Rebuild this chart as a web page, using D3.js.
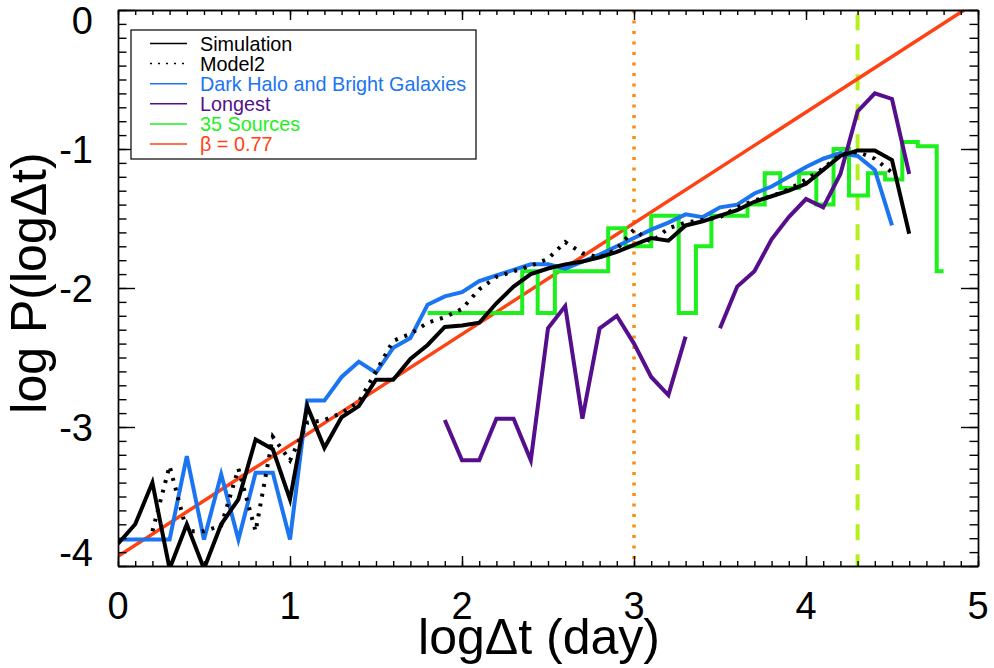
<!DOCTYPE html>
<html lang="en">
<head>
<meta charset="utf-8">
<title>log P(log dt)</title>
<script src="https://d3js.org/d3.v7.min.js"></script>
<style>
	body { margin:0; background:#fff; }
	text { font-family:"Liberation Sans", Arial, Helvetica, sans-serif; }
	.frame path, .frame line { stroke:#000; stroke-width:1.4px; }
</style>
</head>
<body>
<script>

// log(dt) grid, 0.1 dex
var logT = [0,0.1,0.2,0.3,0.4,0.5,0.6,0.7,0.8,0.9,1.0,1.1,1.2,1.3,1.4,1.5,1.6,1.7,1.8,1.9,
            2.0,2.1,2.2,2.3,2.4,2.5,2.6,2.7,2.8,2.9,3.0,3.1,3.2,3.3,3.4,3.5,3.6,3.7,3.8,3.9,
            4.0,4.1,4.2,4.3,4.4,4.5,4.6];

var simulation = [-3.84,-3.70,-3.40,-4.02,-3.70,-4.02,-3.70,-3.52,-3.09,-3.16,
                  -3.52,-2.85,-3.15,-2.93,-2.85,-2.66,-2.66,-2.51,-2.41,-2.28,
                  -2.27,-2.25,-2.11,-1.99,-1.90,-1.86,-1.83,-1.81,-1.78,-1.74,
                  -1.69,-1.64,-1.66,-1.55,-1.52,-1.48,-1.44,-1.38,-1.34,-1.30,
                  -1.25,-1.15,-1.05,-1.01,-1.01,-1.08,-1.61];

var model2 = [null,null,-3.75,-3.28,-3.75,-3.75,-3.71,-3.30,-3.75,-3.07,
              -3.24,-2.97,-2.95,-2.90,-2.82,-2.60,-2.38,-2.33,-2.25,-2.21,
              -2.15,-2.01,-1.92,-1.88,-1.84,-1.79,-1.67,-1.75,-1.78,-1.72,
              -1.58,-1.67,-1.57,-1.53,-1.51,-1.49,-1.42,-1.37,-1.34,-1.29,
              -1.22,-1.14,-1.04,-1.02,-1.07,-1.17,null];

var darkHalo = [-3.81,-3.81,-3.81,-3.81,-3.21,-3.81,-3.34,-3.81,-3.33,-3.33,
                -3.81,-2.81,-2.81,-2.64,-2.53,-2.61,-2.43,-2.36,-2.12,-2.06,
                -2.03,-1.95,-1.91,-1.87,-1.83,-1.83,-1.86,-1.81,-1.76,-1.70,
                -1.64,-1.58,-1.53,-1.47,-1.49,-1.42,-1.40,-1.32,-1.27,-1.20,
                -1.13,-1.07,-1.03,-1.05,-1.15,-1.55,null];

var longestX = [1.9,2.0,2.1,2.2,2.3,2.4,2.5,2.6,2.7,2.8,2.9,3.0,3.1,3.2,3.3,3.4,
                3.5,3.6,3.7,3.8,3.9,4.0,4.1,4.2,4.3,4.4,4.5,4.6];
var longest = [-2.95,-3.24,-3.24,-2.94,-2.94,-3.24,-2.29,-2.13,-2.94,-2.29,-2.20,-2.40,
               -2.64,-2.77,-2.35,null,-2.29,-1.99,-1.88,-1.65,-1.49,-1.36,-1.42,-1.18,
               -0.73,-0.60,-0.64,-1.18];

// 35 sources histogram: bin edges and values
var srcEdges = [1.8,2.35,2.44,2.54,2.85,2.95,3.10,3.26,3.36,3.45,3.66,3.76,
                3.85,3.96,4.06,4.16,4.25,4.36,4.46,4.56,4.65,4.76,4.80];
var srcVals = [-2.18,-1.88,-2.18,-1.88,-1.57,-1.70,-1.48,-2.18,-1.70,-1.48,-1.40,
               -1.175,-1.28,-1.175,-1.40,-1.00,-1.335,-1.175,-1.22,-0.95,-0.98,-1.88];

// power law fit, beta = 0.77
var fitX = [0, 4.92];
var fitY = [-3.93, 0];

var markerX = [3.0, 4.3];

var legendNames = ["Simulation", "Model2", "Dark Halo and Bright Galaxies", "Longest", "35 Sources", "\u03b2 = 0.77"];
var legendColors = ["#000000", "#000000", "#1b74f0", "#560f8c", "#1ef01e", "#ff4213"];

var xTicks = [0,1,2,3,4,5];
var yTicks = [0,-1,-2,-3,-4];

// canvas
const w = 994, h = 668;
const pLeft = 118, pRight = 978, pTop = 10, pBottom = 566;

var svg = d3.select("body")
			.append("svg")
			.attr("width", w)
			.attr("height", h);

var xScale = d3.scaleLinear().domain([0, 5]).range([pLeft, pRight]);
var yScale = d3.scaleLinear().domain([-4, 0]).range([pBottom, pTop]);

svg.append("clipPath")
   .attr("id", "clip")
   .append("rect")
   .attr("x", pLeft).attr("y", pTop)
   .attr("width", pRight - pLeft).attr("height", pBottom - pTop);

var plot = svg.append("g").attr("clip-path", "url(#clip)");

var line = d3.line()
			 .defined(d => d[1] != null)
			 .x(d => xScale(d[0]))
			 .y(d => yScale(d[1]));

function pairs(xs, ys) { return xs.map((x, i) => [x, ys[i]]); }

// vertical markers
plot.append("line")
	.attr("x1", xScale(markerX[0])).attr("x2", xScale(markerX[0]))
	.attr("y1", yScale(0)).attr("y2", yScale(-4))
	.attr("stroke", "#ff8c10").attr("stroke-width", 3.5)
	.attr("stroke-dasharray", "3,7.5");

plot.append("line")
	.attr("x1", xScale(markerX[1])).attr("x2", xScale(markerX[1]))
	.attr("y1", yScale(-0.03)).attr("y2", yScale(-4))
	.attr("stroke", "#b4f01e").attr("stroke-width", 4)
	.attr("stroke-dasharray", "16,14");

// fit line
plot.append("path")
	.attr("d", line(pairs(fitX, fitY)))
	.attr("fill", "none").attr("stroke", legendColors[5]).attr("stroke-width", 3.5);

// histogram of 35 sources
var stepPts = srcVals.map((v, i) => [srcEdges[i], v]);
stepPts.push([srcEdges[srcEdges.length - 1], srcVals[srcVals.length - 1]]);
plot.append("path")
	.attr("d", d3.line().curve(d3.curveStepAfter).x(d => xScale(d[0])).y(d => yScale(d[1]))(stepPts))
	.attr("fill", "none").attr("stroke", legendColors[4]).attr("stroke-width", 4);

plot.append("path")
	.attr("d", line(pairs(longestX, longest)))
	.attr("fill", "none").attr("stroke", legendColors[3]).attr("stroke-width", 4)
	.attr("stroke-linejoin", "miter");

plot.append("path")
	.attr("d", line(pairs(logT, darkHalo)))
	.attr("fill", "none").attr("stroke", legendColors[2]).attr("stroke-width", 4);

plot.append("path")
	.attr("d", line(pairs(logT, model2)))
	.attr("fill", "none").attr("stroke", "#000").attr("stroke-width", 4)
	.attr("stroke-dasharray", "3,7");

plot.append("path")
	.attr("d", line(pairs(logT, simulation)))
	.attr("fill", "none").attr("stroke", "#000").attr("stroke-width", 4);

// axes: ticks pointing inward on all four sides
var xMinor = d3.range(0, 51).map(i => i / 10);
var yMinor = d3.range(-40, 1).map(i => i / 10);

function addAxis(axis, tx, ty) {
	svg.append("g")
	   .attr("class", "frame")
	   .attr("transform", "translate(" + tx + "," + ty + ")")
	   .call(axis.tickSizeOuter(0).tickFormat(""));
}
addAxis(d3.axisBottom(xScale).tickValues(xMinor).tickSizeInner(-5), 0, pBottom);
addAxis(d3.axisBottom(xScale).tickValues(xTicks).tickSizeInner(-10), 0, pBottom);
addAxis(d3.axisTop(xScale).tickValues(xMinor).tickSizeInner(-5), 0, pTop);
addAxis(d3.axisTop(xScale).tickValues(xTicks).tickSizeInner(-10), 0, pTop);
addAxis(d3.axisLeft(yScale).tickValues(yMinor).tickSizeInner(-8.5), pLeft, 0);
addAxis(d3.axisLeft(yScale).tickValues(yTicks).tickSizeInner(-17), pLeft, 0);
addAxis(d3.axisRight(yScale).tickValues(yMinor).tickSizeInner(-8.5), pRight, 0);
addAxis(d3.axisRight(yScale).tickValues(yTicks).tickSizeInner(-17), pRight, 0);

// tick labels
svg.selectAll("text.xlab")
   .data(xTicks)
   .enter()
   .append("text")
   .attr("class", "xlab")
   .attr("x", d => xScale(d))
   .attr("y", 619)
   .attr("text-anchor", "middle")
   .style("font-size", "38px")
   .text(d => d);

// the end labels are kept inside the frame, as in the original
svg.selectAll("text.ylab")
   .data(yTicks)
   .enter()
   .append("text")
   .attr("class", "ylab")
   .attr("x", 93)
   .attr("y", d => Math.min(Math.max(yScale(d), pTop + 10), pBottom - 14) + 14)
   .attr("text-anchor", "end")
   .style("font-size", "38px")
   .text(d => d === 0 ? "0" : "-" + Math.abs(d));

// axis titles
svg.append("text")
   .attr("x", 539)
   .attr("y", 654)
   .attr("text-anchor", "middle")
   .style("font-size", "50px")
   .text("log\u0394t (day)");

svg.append("text")
   .attr("transform", "translate(46,283) rotate(-90)")
   .attr("text-anchor", "middle")
   .style("font-size", "50px")
   .text("log P(log\u0394t)");

// legend
var legend = svg.append("g").attr("transform", "translate(131,30)");
legend.append("rect")
	  .attr("width", 345).attr("height", 129)
	  .attr("fill", "#fff").attr("stroke", "#000").attr("stroke-width", 1.2);

legendNames.forEach((name, i) => {
	var g = legend.append("g").attr("transform", "translate(0," + (13.5 + 20.1 * i) + ")");
	g.append("line")
	 .attr("x1", 19).attr("x2", 56)
	 .attr("stroke", legendColors[i]).attr("stroke-width", 1.5)
	 .attr("stroke-dasharray", i === 1 ? "2,6" : null);
	g.append("text")
	 .attr("x", 69).attr("y", 7)
	 .attr("fill", legendColors[i])
	 .style("font-size", "19.8px")
	 .text(name);
});

</script>
</body>
</html>
